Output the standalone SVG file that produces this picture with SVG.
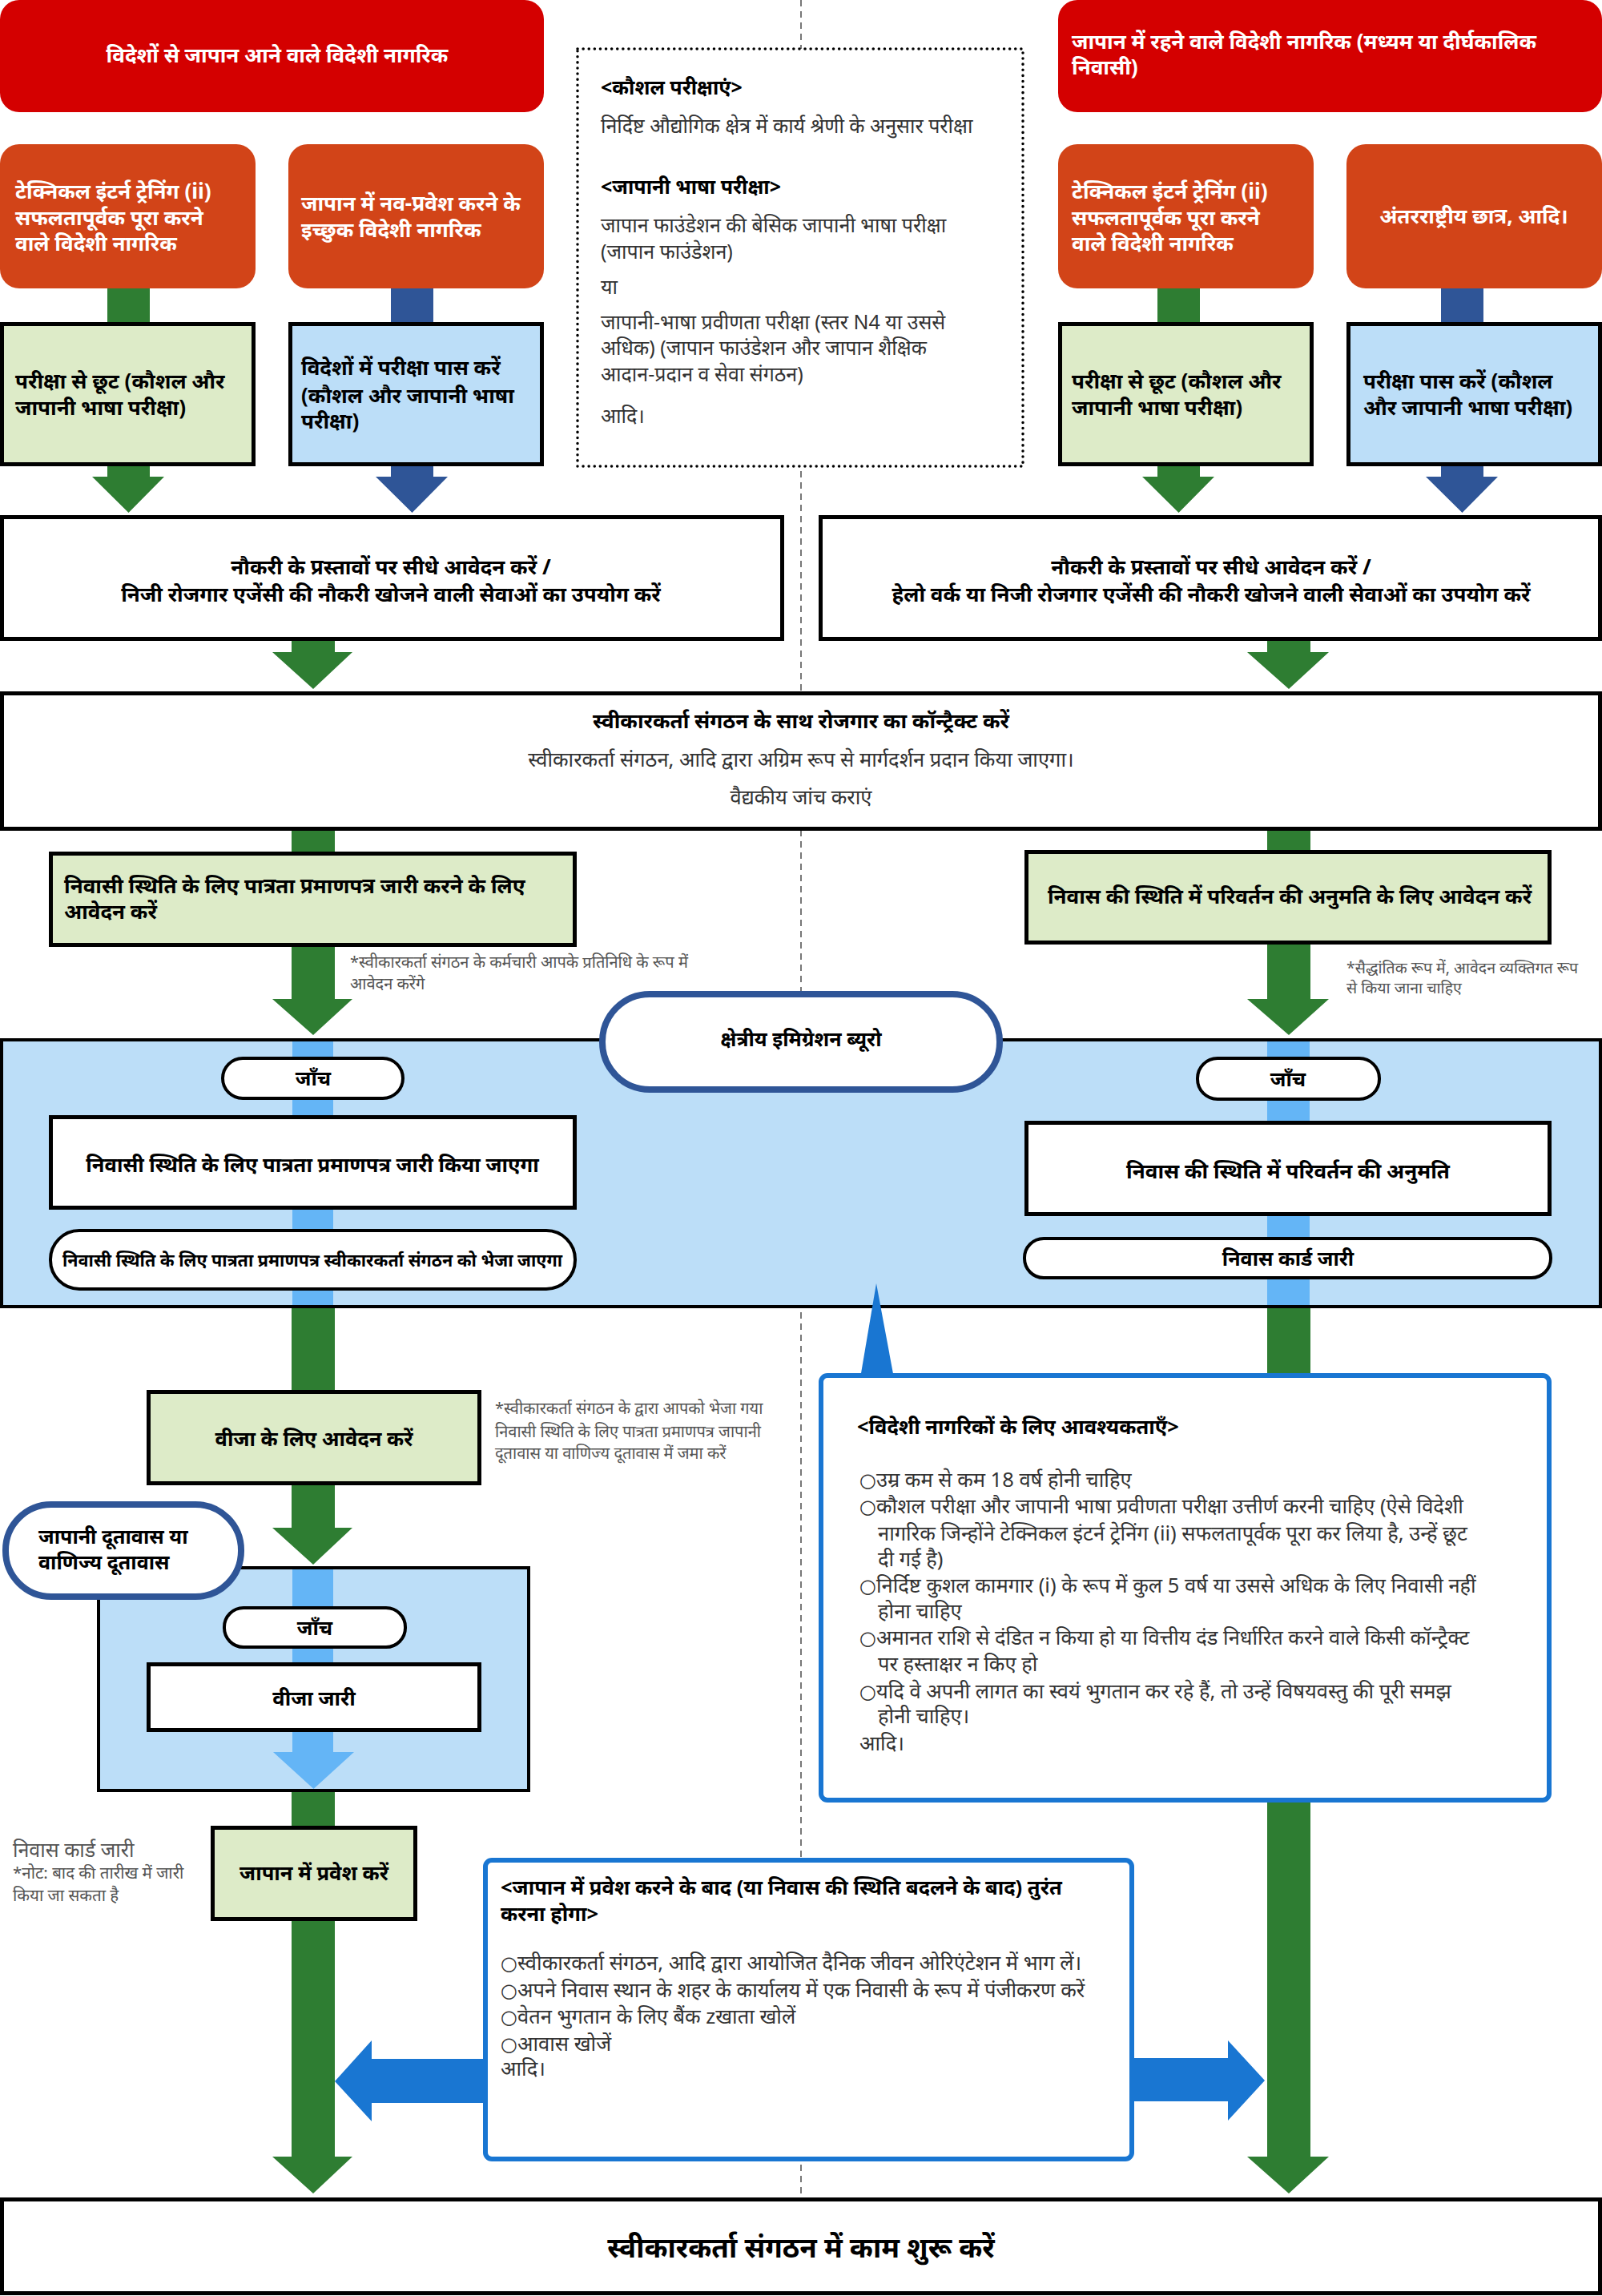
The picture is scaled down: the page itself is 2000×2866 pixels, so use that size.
<svg xmlns="http://www.w3.org/2000/svg" width="2000" height="2866" viewBox="0 0 2000 2866">
<style>
text{font-family:"Noto Sans","Liberation Sans",sans-serif;}
.b{font-weight:bold;}
.w{fill:#fff;}
.k{fill:#000;}
.g{fill:#333;}
.n{fill:#555;}
.c{text-anchor:middle;}
.o{font-family:"DejaVu Sans",sans-serif;font-size:24px;}
.red{fill:#D40000;}
.org{fill:#D24418;}
.lg{fill:#DDEBC8;stroke:#000;stroke-width:5;}
.lb{fill:#BCDEF8;stroke:#000;stroke-width:5;}
.wb{fill:#fff;stroke:#000;stroke-width:5;}
.pill{fill:#fff;stroke:#000;stroke-width:4;}
.bpill{fill:#fff;stroke:#2F5597;stroke-width:8;}
.call{fill:#fff;stroke:#1976D2;stroke-width:6;}
.reg{fill:#BCDEF8;stroke:#000;stroke-width:4;}
.gr{fill:#2E7D32;}
.bl{fill:#2F5597;}
.sb{fill:#64B5F6;}
.cb{fill:#1976D2;}
</style>
<rect width="2000" height="2866" fill="#fff"/>
<line x1="1000" y1="0" x2="1000" y2="2745" stroke="#777" stroke-width="2" stroke-dasharray="8,6"/>

<g id="containers">
  <g id="region-immigration"><rect class="reg" x="2" y="1298" width="1996" height="333"/></g>
  <g id="region-embassy"><rect class="reg" x="123" y="1957" width="537" height="278"/></g>
</g>

<g id="connectors">
  <rect class="gr" x="134" y="358" width="53" height="46"/>
  <rect class="bl" x="488" y="358" width="53" height="46"/>
  <rect class="gr" x="1445" y="358" width="53" height="46"/>
  <rect class="bl" x="1799" y="358" width="53" height="46"/>
  <polygon class="gr" points="134,580 187,580 187,595 205,595 160.5,640 115,595 134,595"/>
  <polygon class="bl" points="488,580 541,580 541,595 559,595 514.5,640 469,595 488,595"/>
  <polygon class="gr" points="1445,580 1498,580 1498,595 1516,595 1471.5,640 1426,595 1445,595"/>
  <polygon class="bl" points="1799,580 1852,580 1852,595 1870,595 1825.5,640 1780,595 1799,595"/>
  <polygon class="gr" points="364,798 418,798 418,814 440,814 391,860 340,814 364,814"/>
  <polygon class="gr" points="1582,798 1636,798 1636,814 1659,814 1609,860 1557,814 1582,814"/>
  <rect class="gr" x="364" y="1035" width="54" height="31"/>
  <rect class="gr" x="1582" y="1035" width="54" height="29"/>
  <polygon class="gr" points="364,1180 418,1180 418,1247 440,1247 391,1292 340,1247 364,1247"/>
  <polygon class="gr" points="1582,1177 1636,1177 1636,1247 1659,1247 1609,1292 1557,1247 1582,1247"/>
  <rect class="sb" x="365" y="1300" width="51" height="329"/>
  <rect class="sb" x="1582" y="1300" width="53" height="329"/>
  <rect class="gr" x="364" y="1633" width="54" height="104"/>
  <polygon class="gr" points="364,1852 418,1852 418,1907 440,1907 391,1953 340,1907 364,1907"/>
  <polygon class="sb" points="365,1959 416,1959 416,2187 442,2187 391.5,2233 341,2187 365,2187"/>
  <rect class="gr" x="364" y="2237" width="54" height="44"/>
  <polygon class="gr" points="364,2396 418,2396 418,2692 440,2692 391,2738 340,2692 364,2692"/>
  <polygon class="gr" points="1582,1633 1636,1633 1636,2692 1659,2692 1609,2738 1557,2692 1582,2692"/>
  <polygon class="cb" points="606,2570 464,2570 464,2547 418,2598 464,2648 464,2625 606,2625"/>
  <polygon class="cb" points="1413,2569 1533,2569 1533,2547 1579,2597 1533,2647 1533,2623 1413,2623"/>
</g>

<g id="node-abroad">
  <rect class="red" x="0" y="0" width="679" height="140" rx="24"/>
  <text class="b w c" x="346" y="78" font-size="26">विदेशों से जापान आने वाले विदेशी नागरिक</text>
</g>
<g id="node-injapan">
  <rect class="red" x="1321" y="0" width="679" height="140" rx="24"/>
  <text class="b w" x="1338" y="61" font-size="26">जापान में रहने वाले विदेशी नागरिक (मध्यम या दीर्घकालिक</text>
  <text class="b w" x="1338" y="93" font-size="26">निवासी)</text>
</g>
<g id="node-tit-left">
  <rect class="org" x="0" y="180" width="319" height="180" rx="24"/>
  <text class="b w" x="19" y="248" font-size="26">टेक्निकल इंटर्न ट्रेनिंग (ii)</text>
  <text class="b w" x="19" y="281" font-size="26">सफलतापूर्वक पूरा करने</text>
  <text class="b w" x="19" y="313" font-size="26">वाले विदेशी नागरिक</text>
</g>
<g id="node-new">
  <rect class="org" x="360" y="180" width="319" height="180" rx="24"/>
  <text class="b w" x="376" y="263" font-size="26">जापान में नव-प्रवेश करने के</text>
  <text class="b w" x="376" y="296" font-size="26">इच्छुक विदेशी नागरिक</text>
</g>
<g id="node-tit-right">
  <rect class="org" x="1321" y="180" width="319" height="180" rx="24"/>
  <text class="b w" x="1338" y="248" font-size="26">टेक्निकल इंटर्न ट्रेनिंग (ii)</text>
  <text class="b w" x="1338" y="281" font-size="26">सफलतापूर्वक पूरा करने</text>
  <text class="b w" x="1338" y="313" font-size="26">वाले विदेशी नागरिक</text>
</g>
<g id="node-students">
  <rect class="org" x="1681" y="180" width="319" height="180" rx="24"/>
  <text class="b w c" x="1840" y="279" font-size="26">अंतरराष्ट्रीय छात्र, आदि।</text>
</g>

<g id="node-exempt-left">
  <rect class="lg" x="2.5" y="404.5" width="314" height="175"/>
  <text class="b k" x="19" y="485" font-size="26">परीक्षा से छूट (कौशल और</text>
  <text class="b k" x="19" y="518" font-size="26">जापानी भाषा परीक्षा)</text>
</g>
<g id="node-pass-abroad">
  <rect class="lb" x="362.5" y="404.5" width="314" height="175"/>
  <text class="b k" x="376" y="468" font-size="26">विदेशों में परीक्षा पास करें</text>
  <text class="b k" x="376" y="503" font-size="26">(कौशल और जापानी भाषा</text>
  <text class="b k" x="376" y="535" font-size="26">परीक्षा)</text>
</g>
<g id="node-exempt-right">
  <rect class="lg" x="1323.5" y="404.5" width="314" height="175"/>
  <text class="b k" x="1338" y="485" font-size="26">परीक्षा से छूट (कौशल और</text>
  <text class="b k" x="1338" y="518" font-size="26">जापानी भाषा परीक्षा)</text>
</g>
<g id="node-pass-right">
  <rect class="lb" x="1683.5" y="404.5" width="314" height="175"/>
  <text class="b k" x="1702" y="485" font-size="26">परीक्षा पास करें (कौशल</text>
  <text class="b k" x="1702" y="518" font-size="26">और जापानी भाषा परीक्षा)</text>
</g>

<g id="node-tests-info">
  <rect x="721" y="61" width="556" height="521" fill="#fff" stroke="#000" stroke-width="3.5" stroke-dasharray="0.1,7" stroke-linecap="round"/>
  <text class="b k" x="750" y="118" font-size="25">&lt;कौशल परीक्षाएं&gt;</text>
  <text class="g" x="750" y="166" font-size="25">निर्दिष्ट औद्योगिक क्षेत्र में कार्य श्रेणी के अनुसार परीक्षा</text>
  <text class="b k" x="750" y="242" font-size="25">&lt;जापानी भाषा परीक्षा&gt;</text>
  <text class="g" x="750" y="290" font-size="25">जापान फाउंडेशन की बेसिक जापानी भाषा परीक्षा</text>
  <text class="g" x="750" y="323" font-size="25">(जापान फाउंडेशन)</text>
  <text class="g" x="750" y="367" font-size="25">या</text>
  <text class="g" x="750" y="411" font-size="25">जापानी-भाषा प्रवीणता परीक्षा (स्तर N4 या उससे</text>
  <text class="g" x="750" y="443" font-size="25">अधिक) (जापान फाउंडेशन और जापान शैक्षिक</text>
  <text class="g" x="750" y="476" font-size="25">आदान-प्रदान व सेवा संगठन)</text>
  <text class="g" x="750" y="528" font-size="25">आदि।</text>
</g>

<g id="node-job-left">
  <rect class="wb" x="2.5" y="645.5" width="974" height="152"/>
  <text class="b k c" x="488" y="717" font-size="26">नौकरी के प्रस्तावों पर सीधे आवेदन करें /</text>
  <text class="b k c" x="488" y="751" font-size="26">निजी रोजगार एजेंसी की नौकरी खोजने वाली सेवाओं का उपयोग करें</text>
</g>
<g id="node-job-right">
  <rect class="wb" x="1024.5" y="645.5" width="973" height="152"/>
  <text class="b k c" x="1512" y="717" font-size="26">नौकरी के प्रस्तावों पर सीधे आवेदन करें /</text>
  <text class="b k c" x="1512" y="751" font-size="26">हेलो वर्क या निजी रोजगार एजेंसी की नौकरी खोजने वाली सेवाओं का उपयोग करें</text>
</g>

<g id="node-contract">
  <rect class="wb" x="2.5" y="865.5" width="1995" height="169"/>
  <text class="b k c" x="1000" y="909" font-size="26">स्वीकारकर्ता संगठन के साथ रोजगार का कॉन्ट्रैक्ट करें</text>
  <text class="g c" x="1000" y="957" font-size="25.5">स्वीकारकर्ता संगठन, आदि द्वारा अग्रिम रूप से मार्गदर्शन प्रदान किया जाएगा।</text>
  <text class="g c" x="1000" y="1004" font-size="25.5">वैद्यकीय जांच कराएं</text>
</g>

<g id="node-coe-apply">
  <rect class="lg" x="63.5" y="1065.5" width="654" height="114"/>
  <text class="b k" x="80" y="1115" font-size="26">निवासी स्थिति के लिए पात्रता प्रमाणपत्र जारी करने के लिए</text>
  <text class="b k" x="80" y="1147" font-size="26">आवेदन करें</text>
</g>
<g id="note-coe">
  <text class="n" x="437" y="1208" font-size="20">*स्वीकारकर्ता संगठन के कर्मचारी आपके प्रतिनिधि के रूप में</text>
  <text class="n" x="437" y="1235" font-size="20">आवेदन करेंगे</text>
</g>
<g id="node-change-apply">
  <rect class="lg" x="1281.5" y="1063.5" width="653" height="113"/>
  <text class="b k c" x="1610" y="1128" font-size="26">निवास की स्थिति में परिवर्तन की अनुमति के लिए आवेदन करें</text>
</g>
<g id="note-change">
  <text class="n" x="1681" y="1215" font-size="19.5">*सैद्धांतिक रूप में, आवेदन व्यक्तिगत रूप</text>
  <text class="n" x="1681" y="1240" font-size="19.5">से किया जाना चाहिए</text>
</g>

<g id="node-immigration-bureau">
  <rect class="bpill" x="752" y="1241" width="496" height="119" rx="59"/>
  <text class="b k c" x="1000" y="1306" font-size="25">क्षेत्रीय इमिग्रेशन ब्यूरो</text>
</g>
<g id="node-check-left">
  <rect class="pill" x="278" y="1321" width="225" height="50" rx="25"/>
  <text class="b k c" x="391" y="1355" font-size="25">जाँच</text>
</g>
<g id="node-coe-issued">
  <rect class="wb" x="63.5" y="1394.5" width="654" height="113"/>
  <text class="b k c" x="390" y="1463" font-size="25.5">निवासी स्थिति के लिए पात्रता प्रमाणपत्र जारी किया जाएगा</text>
</g>
<g id="node-coe-sent">
  <rect class="pill" x="63" y="1536" width="655" height="73" rx="36"/>
  <text class="b k c" x="390" y="1581" font-size="21.5">निवासी स्थिति के लिए पात्रता प्रमाणपत्र स्वीकारकर्ता संगठन को भेजा जाएगा</text>
</g>
<g id="node-check-right">
  <rect class="pill" x="1495" y="1321" width="227" height="51" rx="25"/>
  <text class="b k c" x="1608" y="1356" font-size="25">जाँच</text>
</g>
<g id="node-change-permit">
  <rect class="wb" x="1281.5" y="1401.5" width="653" height="114"/>
  <text class="b k c" x="1608" y="1471" font-size="26">निवास की स्थिति में परिवर्तन की अनुमति</text>
</g>
<g id="node-card-right">
  <rect class="pill" x="1279" y="1546" width="657" height="49" rx="24"/>
  <text class="b k c" x="1608" y="1580" font-size="25">निवास कार्ड जारी</text>
</g>

<g id="node-visa-apply">
  <rect class="lg" x="185.5" y="1737.5" width="413" height="114"/>
  <text class="b k c" x="392" y="1805" font-size="25.5">वीजा के लिए आवेदन करें</text>
</g>
<g id="note-visa">
  <text class="n" x="618" y="1765" font-size="20">*स्वीकारकर्ता संगठन के द्वारा आपको भेजा गया</text>
  <text class="n" x="618" y="1794" font-size="20">निवासी स्थिति के लिए पात्रता प्रमाणपत्र जापानी</text>
  <text class="n" x="618" y="1821" font-size="20">दूतावास या वाणिज्य दूतावास में जमा करें</text>
</g>
<g id="node-embassy">
  <rect class="bpill" x="7" y="1878" width="294" height="115" rx="57"/>
  <text class="b k" x="48" y="1927" font-size="25">जापानी दूतावास या</text>
  <text class="b k" x="48" y="1959" font-size="25">वाणिज्य दूतावास</text>
</g>
<g id="node-check-embassy">
  <rect class="pill" x="280" y="2007" width="226" height="49" rx="24"/>
  <text class="b k c" x="393" y="2041" font-size="25">जाँच</text>
</g>
<g id="node-visa-issued">
  <rect class="wb" x="185.5" y="2077.5" width="413" height="82"/>
  <text class="b k c" x="392" y="2129" font-size="25.5">वीजा जारी</text>
</g>

<g id="node-enter">
  <rect class="lg" x="265.5" y="2281.5" width="253" height="114"/>
  <text class="b k c" x="392" y="2347" font-size="25.5">जापान में प्रवेश करें</text>
</g>
<g id="note-card-left">
  <text class="n" x="16" y="2318" font-size="25">निवास कार्ड जारी</text>
  <text class="n" x="16" y="2345" font-size="20.5">*नोट: बाद की तारीख में जारी</text>
  <text class="n" x="16" y="2373" font-size="20.5">किया जा सकता है</text>
</g>

<g id="node-requirements">
  <rect class="call" x="1025" y="1717" width="909" height="530" rx="8"/>
  <polygon class="cb" points="1094,1602 1074,1720 1116,1720"/>
  <text class="b k" x="1070" y="1790" font-size="25.5">&lt;विदेशी नागरिकों के लिए आवश्यकताएँ&gt;</text>
  <text class="g" x="1073" y="1856" font-size="25.5"><tspan class="o">○</tspan>उम्र कम से कम 18 वर्ष होनी चाहिए</text>
  <text class="g" x="1073" y="1889" font-size="25.5"><tspan class="o">○</tspan>कौशल परीक्षा और जापानी भाषा प्रवीणता परीक्षा उत्तीर्ण करनी चाहिए (ऐसे विदेशी</text>
  <text class="g" x="1096" y="1923" font-size="25.5">नागरिक जिन्होंने टेक्निकल इंटर्न ट्रेनिंग (ii) सफलतापूर्वक पूरा कर लिया है, उन्हें छूट</text>
  <text class="g" x="1096" y="1955" font-size="25.5">दी गई है)</text>
  <text class="g" x="1073" y="1988" font-size="25.5"><tspan class="o">○</tspan>निर्दिष्ट कुशल कामगार (i) के रूप में कुल 5 वर्ष या उससे अधिक के लिए निवासी नहीं</text>
  <text class="g" x="1096" y="2020" font-size="25.5">होना चाहिए</text>
  <text class="g" x="1073" y="2053" font-size="25.5"><tspan class="o">○</tspan>अमानत राशि से दंडित न किया हो या वित्तीय दंड निर्धारित करने वाले किसी कॉन्ट्रैक्ट</text>
  <text class="g" x="1096" y="2086" font-size="25.5">पर हस्ताक्षर न किए हो</text>
  <text class="g" x="1073" y="2120" font-size="25.5"><tspan class="o">○</tspan>यदि वे अपनी लागत का स्वयं भुगतान कर रहे हैं, तो उन्हें विषयवस्तु की पूरी समझ</text>
  <text class="g" x="1096" y="2151" font-size="25.5">होनी चाहिए।</text>
  <text class="g" x="1073" y="2185" font-size="25.5">आदि।</text>
</g>

<g id="node-after-entry">
  <rect class="call" x="606" y="2322" width="807" height="373" rx="8"/>
  <text class="b k" x="625" y="2365" font-size="25.5">&lt;जापान में प्रवेश करने के बाद (या निवास की स्थिति बदलने के बाद) तुरंत</text>
  <text class="b k" x="625" y="2398" font-size="25.5">करना होगा&gt;</text>
  <text class="g" x="625" y="2459" font-size="25.5"><tspan class="o">○</tspan>स्वीकारकर्ता संगठन, आदि द्वारा आयोजित दैनिक जीवन ओरिएंटेशन में भाग लें।</text>
  <text class="g" x="625" y="2493" font-size="25.5"><tspan class="o">○</tspan>अपने निवास स्थान के शहर के कार्यालय में एक निवासी के रूप में पंजीकरण करें</text>
  <text class="g" x="625" y="2526" font-size="25.5"><tspan class="o">○</tspan>वेतन भुगतान के लिए बैंक zखाता खोलें</text>
  <text class="g" x="625" y="2560" font-size="25.5"><tspan class="o">○</tspan>आवास खोजें</text>
  <text class="g" x="625" y="2591" font-size="25.5">आदि।</text>
</g>

<g id="node-start-work">
  <rect class="wb" x="2.5" y="2745.5" width="1995" height="117"/>
  <text class="b k c" x="1000" y="2818" font-size="35">स्वीकारकर्ता संगठन में काम शुरू करें</text>
</g>
</svg>
